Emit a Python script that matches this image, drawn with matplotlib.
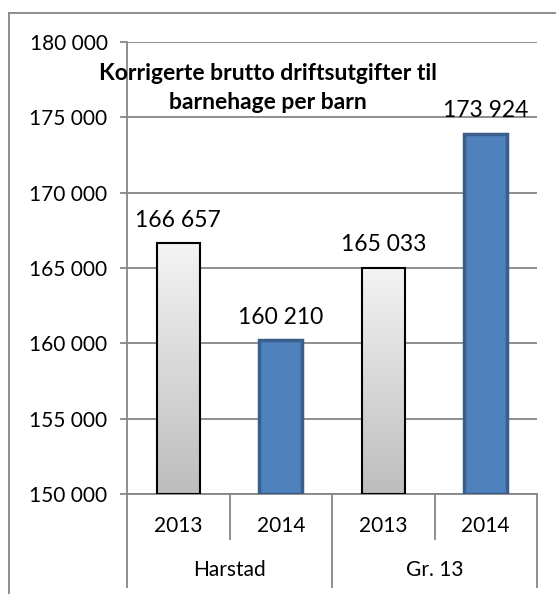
import numpy as np
import matplotlib
matplotlib.use("Agg")
import matplotlib.pyplot as plt
from matplotlib.lines import Line2D

# chart data
groups = ["Harstad", "Gr. 13"]
years = ["2013", "2014", "2013", "2014"]
values = [166657, 160210, 165033, 173924]
title = "Korrigerte brutto driftsutgifter til\nbarnehage per barn"
yticks = [150000, 155000, 160000, 165000, 170000, 175000, 180000]

GRID = "#868686"
BLUE = "#4f81bd"
BLUE_EDGE = "#3b5f8c"

plt.rcParams["font.family"] = ["Lato", "DejaVu Sans"]


def fmt(v):
    return f"{v:,}".replace(",", " ")


fig = plt.figure(figsize=(5.56, 5.94), dpi=100)
ax = fig.add_axes([127 / 556, 1 - 494 / 594, 410 / 556, 452 / 594])

# outer chart border (cut off by the image on the right and bottom)
fig.add_artist(Line2D([9 / 556, 1], [1 - 13 / 594] * 2, color=GRID, lw=1.3))
fig.add_artist(Line2D([9 / 556] * 2, [1 - 13 / 594, 0], color=GRID, lw=1.3))

x = np.arange(len(values))
ax.set_xlim(-0.5, len(values) - 0.5)
ax.set_ylim(yticks[0], yticks[-1])

ax.set_yticks(yticks)
ax.set_yticklabels([fmt(t) for t in yticks], fontsize=15)
ax.yaxis.grid(True, color=GRID, lw=1.3)
ax.set_axisbelow(True)
ax.tick_params(axis="y", length=5, width=1.3, color=GRID, pad=9)
ax.set_xticks([])
for s in ["top", "right"]:
    ax.spines[s].set_visible(False)
ax.spines["left"].set_color(GRID)
ax.spines["left"].set_linewidth(1.3)
ax.spines["bottom"].set_color(GRID)
ax.spines["bottom"].set_linewidth(1.3)
ax.spines["left"].set_bounds(yticks[0], yticks[-1])

grad = np.linspace(0, 1, 256).reshape(-1, 1)
gray_cmap = matplotlib.colors.LinearSegmentedColormap.from_list("g", ["#bdbdbd", "#f4f4f4"])
w = 0.42
for i, v in enumerate(values):
    if i % 2 == 0:
        bar = ax.bar(x[i], v - yticks[0], bottom=yticks[0], width=w, color="none",
                     edgecolor="black", lw=1.5, zorder=3)[0]
        im = ax.imshow(grad, extent=[x[i] - w / 2, x[i] + w / 2, yticks[0], v],
                       origin="lower", cmap=gray_cmap, aspect="auto", zorder=2)
        im.set_clip_path(bar)
    else:
        ax.bar(x[i], v - yticks[0], bottom=yticks[0], width=w, color=BLUE,
               edgecolor=BLUE_EDGE, lw=2.5, zorder=3)
    ax.annotate(fmt(v), (x[i], v), xytext=(0, 9), textcoords="offset points",
                ha="center", va="bottom", fontsize=16.5)

# two-level category axis
tr = ax.get_xaxis_transform()
for i, yr in enumerate(years):
    ax.text(x[i], -0.07, yr, transform=tr, ha="center", va="center", fontsize=15)
for k in range(1, len(values) + 1):
    depth = -0.206 if k % 2 == 0 else -0.1
    ax.add_line(Line2D([k - 0.5] * 2, [0, depth], transform=tr, color=GRID, lw=1.3, clip_on=False))
ax.add_line(Line2D([-0.5] * 2, [0, -0.206], transform=tr, color=GRID, lw=1.3, clip_on=False))
for j, g in enumerate(groups):
    ax.text(2 * j + 0.5, -0.168, g, transform=tr, ha="center", va="center", fontsize=15)

fig.text(268 / 556, 1 - 88 / 594, title, ha="center", va="center",
         fontsize=16.5, fontweight="bold", linespacing=1.45)

fig.savefig("out.png", dpi=100)
